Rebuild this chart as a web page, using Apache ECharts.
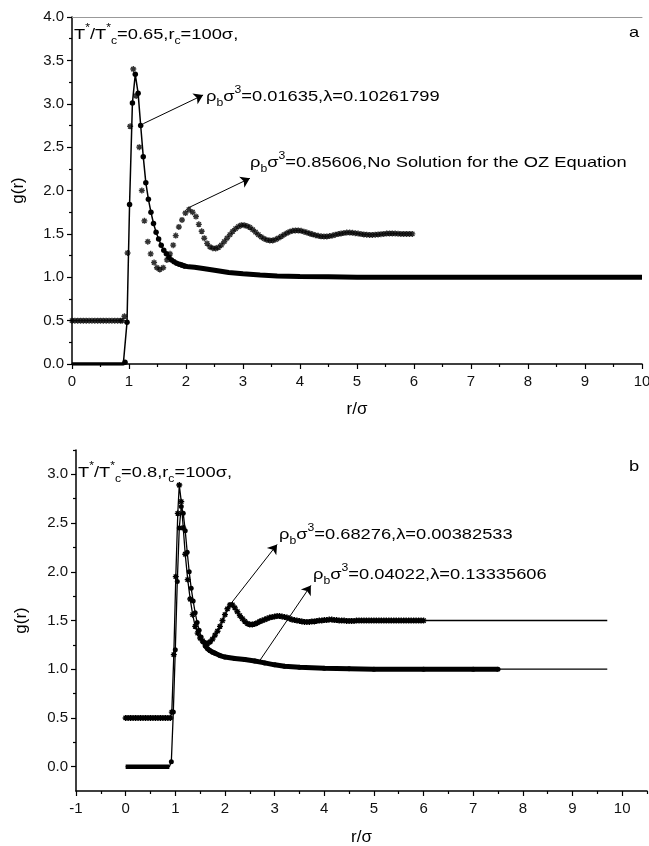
<!DOCTYPE html>
<html>
<head>
<meta charset="utf-8">
<script src="https://cdn.jsdelivr.net/npm/echarts@6/dist/echarts.min.js"></script>
<style>html,body{margin:0;padding:0;background:#fff;}#c{width:649px;height:846px;}</style>
</head>
<body>
<div id="c"></div>
<script>
// ---------- tick values ----------
const topXTicks = [0,1,2,3,4,5,6,7,8,9,10];
const topYTicks = [0,0.5,1,1.5,2,2.5,3,3.5,4];
const botXTicks = [-1,0,1,2,3,4,5,6,7,8,9,10];
const botXMinor = [-0.5,0.5,1.5,2.5,3.5,4.5,5.5,6.5,7.5,8.5,9.5,10.5];
const botYTicks = [0,0.5,1,1.5,2,2.5,3];
const botYMinor = [0.25,0.75,1.25,1.75,2.25,2.75,3.25];

// ---------- panel a: rho=0.01635 (circles + line) ----------
const topA = [[0,0],[0.1,0],[0.2,0],[0.3,0],[0.4,0],[0.5,0],[0.6,0],[0.7,0],[0.8,0],[0.9,0],
[0.93,0.02],[0.965,0.48],[1.01,1.84],[1.06,3.01],[1.11,3.34],[1.16,3.12],[1.205,2.75],[1.25,2.39],
[1.295,2.09],[1.34,1.90],[1.385,1.75],[1.43,1.62],[1.475,1.52],[1.52,1.44],[1.565,1.37],[1.61,1.31],
[1.655,1.27],[1.70,1.23],[1.745,1.20],[1.79,1.18],[1.835,1.16],[1.88,1.15],[1.925,1.14],[1.97,1.13],
[2.05,1.12],[2.15,1.115],[2.3,1.10],[2.5,1.08],[2.75,1.055],[3.0,1.04],[3.3,1.025],[3.6,1.015],
[4,1.01],[4.5,1.005],[5,1],[6,1],[7,1],[8,1],[9,1],[10,1]];

// ---------- panel a: rho=0.85606 (asterisks) ----------
const topB = [[0,.5],[.05,.5],[.1,.5],[.15,.5],[.2,.5],[.25,.5],[.3,.5],[.35,.5],[.4,.5],[.45,.5],[.5,.5],
[.55,.5],[.6,.5],[.65,.5],[.7,.5],[.75,.5],[.8,.5],[.85,.5],[.88,.5],
[.92,.55],[.975,1.28],[1.02,2.74],[1.075,3.40],[1.125,3.09],[1.18,2.50],[1.225,2.0],[1.27,1.65],
[1.33,1.41],[1.38,1.27],[1.44,1.17],[1.49,1.11],[1.54,1.09],[1.60,1.11],[1.665,1.20],[1.72,1.27],
[1.775,1.37],[1.82,1.48],[1.875,1.58],[1.93,1.66],[1.99,1.74],[2.05,1.78],[2.115,1.75],[2.175,1.70],
[2.225,1.61],[2.275,1.53],[2.32,1.45],[2.37,1.39],[2.42,1.35],[2.47,1.335],[2.52,1.33],[2.57,1.345],
[2.62,1.37],[2.67,1.41],[2.72,1.45],[2.77,1.49],[2.82,1.53],[2.87,1.56],[2.92,1.585],[2.97,1.60],
[3.02,1.60],[3.07,1.59],[3.12,1.575],[3.17,1.55],[3.22,1.52],[3.27,1.49],[3.32,1.465],[3.37,1.445],
[3.42,1.43],[3.47,1.425],[3.52,1.425],[3.57,1.435],[3.62,1.45],[3.67,1.47],[3.72,1.49],[3.77,1.51],
[3.82,1.525],[3.87,1.535],[3.92,1.54],[3.97,1.54],[4.02,1.535],[4.07,1.525],[4.12,1.515],[4.17,1.505],
[4.22,1.495],[4.27,1.485],[4.32,1.478],[4.37,1.472],[4.42,1.47],[4.47,1.47],[4.52,1.475],[4.57,1.48],
[4.62,1.49],[4.67,1.498],[4.72,1.505],[4.77,1.51],[4.82,1.515],[4.87,1.515],[4.92,1.512],[4.97,1.508],
[5.02,1.503],[5.07,1.498],[5.12,1.494],[5.17,1.49],[5.22,1.488],[5.27,1.488],[5.32,1.49],[5.37,1.493],
[5.42,1.497],[5.47,1.5],[5.52,1.503],[5.57,1.505],[5.62,1.505],[5.67,1.504],[5.72,1.502],[5.77,1.5],
[5.82,1.5],[5.87,1.5],[5.92,1.5],[5.97,1.5]];

// ---------- panel b: rho=0.68276 (asterisks + line) ----------
const botC = [[0,.5],[.05,.5],[.1,.5],[.15,.5],[.2,.5],[.25,.5],[.3,.5],[.35,.5],[.4,.5],[.45,.5],[.5,.5],
[.55,.5],[.6,.5],[.65,.5],[.7,.5],[.75,.5],[.8,.5],[.85,.5],[.9,.5],
[.93,.56],[.97,1.15],[1.01,1.95],[1.05,2.6],[1.08,2.89],[1.12,2.72],[1.16,2.45],[1.2,2.18],[1.25,1.92],
[1.3,1.72],[1.35,1.56],[1.4,1.44],[1.45,1.37],[1.5,1.32],[1.55,1.29],[1.6,1.27],[1.65,1.265],[1.7,1.28],
[1.75,1.31],[1.8,1.35],[1.85,1.39],[1.9,1.44],[1.95,1.5],[2,1.56],[2.05,1.62],[2.1,1.66],[2.15,1.66],
[2.2,1.63],[2.25,1.59],[2.3,1.55],[2.35,1.52],[2.4,1.49],[2.45,1.47],[2.5,1.46],[2.55,1.46],[2.6,1.465],
[2.65,1.475],[2.7,1.49],[2.75,1.5],[2.8,1.51],[2.85,1.52],[2.9,1.53],[2.95,1.535],[3,1.54],[3.05,1.545],
[3.1,1.545],[3.15,1.54],[3.2,1.535],[3.25,1.53],[3.3,1.52],[3.35,1.51],[3.4,1.505],[3.45,1.5],[3.5,1.495],
[3.55,1.49],[3.6,1.485],[3.65,1.485],[3.7,1.485],[3.75,1.49],[3.8,1.49],[3.85,1.495],[3.9,1.5],[3.95,1.5],
[4,1.505],[4.05,1.505],[4.1,1.51],[4.15,1.51],[4.2,1.505],[4.25,1.505],[4.3,1.5],[4.35,1.5],[4.4,1.5],
[4.45,1.495],[4.5,1.495],[4.55,1.495],[4.6,1.495],[4.65,1.5],[4.7,1.5],[4.75,1.5],[4.8,1.5],[4.85,1.5],
[4.9,1.5],[4.95,1.5],[5,1.5],[5.05,1.5],[5.1,1.5],[5.15,1.5],[5.2,1.5],[5.25,1.5],[5.3,1.5],[5.35,1.5],
[5.4,1.5],[5.45,1.5],[5.5,1.5],[5.55,1.5],[5.6,1.5],[5.65,1.5],[5.7,1.5],[5.75,1.5],[5.8,1.5],[5.85,1.5],
[5.9,1.5],[5.95,1.5],[6,1.5],[7,1.5],[8,1.5],[9,1.5],[9.7,1.5]];

// ---------- panel b: rho=0.04022 (circles + line) ----------
const botD = [[0,0],[0.1,0],[0.2,0],[0.3,0],[0.4,0],[0.5,0],[0.6,0],[0.7,0],[0.8,0],[0.88,0],
[0.92,0.05],[0.96,0.56],[1.0,1.2],[1.04,1.9],[1.08,2.45],[1.12,2.67],[1.16,2.6],[1.2,2.42],[1.24,2.2],
[1.28,2.0],[1.32,1.83],[1.36,1.7],[1.4,1.58],[1.44,1.48],[1.48,1.4],[1.52,1.33],[1.56,1.28],[1.6,1.24],
[1.65,1.21],[1.7,1.19],[1.75,1.175],[1.8,1.165],[1.9,1.14],[2.0,1.125],[2.2,1.11],[2.4,1.10],[2.6,1.085],
[2.8,1.065],[3.0,1.045],[3.2,1.03],[3.5,1.02],[4,1.01],[4.5,1.005],[5,1],[6,1],[7,1],[7.5,1],[8,1],[9,1],[9.7,1]];

// ---------- annotation texts ----------
const labelTopState = '{m|T}{sup|*}{m|/T}{sup|*}{sub|c}{m|=0.65,r}{sub|c}{m|=100σ,}';
const labelTopA = '{m|ρ}{sub|b}{m|σ}{sup|3}{m|=0.01635,λ=0.10261799}';
const labelTopB = '{m|ρ}{sub|b}{m|σ}{sup|3}{m|=0.85606,No Solution for the OZ Equation}';
const labelBotState = '{m|T}{sup|*}{m|/T}{sup|*}{sub|c}{m|=0.8,r}{sub|c}{m|=100σ,}';
const labelBotC = '{m|ρ}{sub|b}{m|σ}{sup|3}{m|=0.68276,λ=0.00382533}';
const labelBotD = '{m|ρ}{sub|b}{m|σ}{sup|3}{m|=0.04022,λ=0.13335606}';

const F = '"Liberation Sans", Arial, Helvetica, sans-serif';
const AST = 'path://M0,-1L0,1M-1,0L1,0M-0.71,-0.71L0.71,0.71M-0.71,0.71L0.71,-0.71';
const SX = 1.22;

function rt(x, y, text, size, sx) {
  const s = Math.round(size * 0.66);
  return {
    type: 'text', x: x, y: y, scaleX: sx, silent: true, z: 100,
    style: {
      text: text, fill: '#000', font: size + 'px ' + F, align: 'left', verticalAlign: 'middle',
      rich: {
        m: {fontSize: size, fontFamily: F, lineHeight: size + 8, verticalAlign: 'middle', fill: '#000'},
        sub: {fontSize: s, fontFamily: F, lineHeight: s, verticalAlign: 'bottom', fill: '#000'},
        sup: {fontSize: s, fontFamily: F, lineHeight: s, verticalAlign: 'top', fill: '#000'}
      }
    }
  };
}

const axisLineStyle = {color: '#000', width: 1.5};
const tickStyle = {color: '#000', width: 1.2};
const lblStyle = {color: '#111', fontSize: 15, fontFamily: F};
const nameStyle = {color: '#000', fontSize: 17, fontFamily: F};

const arrowStyle = {
  silent: true, symbol: ['none', 'arrow'], symbolSize: 9, animation: false,
  label: {show: false}, lineStyle: {color: '#000', width: 1, type: 'solid'}, emphasis: {disabled: true}
};
const arrowTopA = [[{coord: [1.25, 2.77]}, {coord: [2.30, 3.10]}]];
const arrowTopB = [[{coord: [2.04, 1.80]}, {coord: [3.12, 2.14]}]];
const arrowBotC = [[{coord: [2.13, 1.68]}, {coord: [3.05, 2.28]}]];
const arrowBotD = [[{coord: [2.69, 1.08]}, {coord: [3.73, 1.86]}]];

const astStyle = {color: '#000', borderColor: '#000', borderWidth: 1.4};

const chart = echarts.init(document.getElementById('c'), null, {renderer: 'canvas'});
const option = {
  animation: false,
  backgroundColor: '#fff',
  grid: [
    {left: 72, top: 17, width: 570, height: 347, outerBoundsMode: 'none', containLabel: false},
    {left: 76, top: 450, width: 571, height: 341, outerBoundsMode: 'none', containLabel: false}
  ],
  xAxis: [
    {gridIndex: 0, type: 'value', min: 0, max: 10, interval: 1, position: 'bottom',
     axisLine: {onZero: false, lineStyle: axisLineStyle},
     axisTick: {show: true, length: 5, lineStyle: tickStyle},
     minorTick: {show: true, splitNumber: 2, length: 3, lineStyle: tickStyle},
     splitLine: {show: false}, minorSplitLine: {show: false},
     axisLabel: Object.assign({margin: 10, customValues: topXTicks}, lblStyle),
     name: 'r/σ', nameLocation: 'middle', nameGap: 37, nameTextStyle: nameStyle},
    {gridIndex: 0, type: 'value', min: 0, max: 10, position: 'top',
     axisLine: {onZero: false, lineStyle: {color: '#999', width: 1}},
     axisTick: {show: false}, axisLabel: {show: false}, splitLine: {show: false}},
    {gridIndex: 1, type: 'value', min: -1, max: 10.5, position: 'bottom',
     axisLine: {onZero: false, lineStyle: axisLineStyle},
     axisTick: {show: true, length: 5, lineStyle: tickStyle, customValues: botXTicks},
     splitLine: {show: false},
     axisLabel: Object.assign({margin: 10, customValues: botXTicks}, lblStyle),
     name: 'r/σ', nameLocation: 'middle', nameGap: 38, nameTextStyle: nameStyle},
    {gridIndex: 1, type: 'value', min: -1, max: 10.5, position: 'bottom',
     axisLine: {show: false, onZero: false},
     axisTick: {show: true, length: 3, lineStyle: tickStyle, customValues: botXMinor},
     axisLabel: {show: false}, splitLine: {show: false}}
  ],
  yAxis: [
    {gridIndex: 0, type: 'value', min: 0, max: 4, interval: 0.5, position: 'left',
     axisLine: {show: true, onZero: false, lineStyle: axisLineStyle},
     axisTick: {show: true, length: 5, lineStyle: tickStyle},
     minorTick: {show: true, splitNumber: 2, length: 3, lineStyle: tickStyle},
     splitLine: {show: false}, minorSplitLine: {show: false},
     axisLabel: Object.assign({margin: 8, customValues: topYTicks, formatter: v => v.toFixed(1)}, lblStyle),
     name: 'g(r)', nameLocation: 'middle', nameGap: 45, nameTextStyle: nameStyle},
    {gridIndex: 1, type: 'value', min: -0.25, max: 3.25, position: 'left',
     axisLine: {show: true, onZero: false, lineStyle: axisLineStyle},
     axisTick: {show: true, length: 5, lineStyle: tickStyle, customValues: botYTicks},
     splitLine: {show: false},
     axisLabel: Object.assign({margin: 8, customValues: botYTicks, formatter: v => v.toFixed(1)}, lblStyle),
     name: 'g(r)', nameLocation: 'middle', nameGap: 46, nameTextStyle: nameStyle},
    {gridIndex: 1, type: 'value', min: -0.25, max: 3.25, position: 'left',
     axisLine: {show: false, onZero: false},
     axisTick: {show: true, length: 3, lineStyle: tickStyle, customValues: botYMinor},
     axisLabel: {show: false}, splitLine: {show: false}}
  ],
  series: [
    // panel a, rho=0.01635: dense parts drawn as thick band
    {type: 'line', xAxisIndex: 0, yAxisIndex: 0, data: topA.filter(p => p[0] <= 0.93), symbol: 'none',
     lineStyle: {color: '#000', width: 3.5}, z: 2, silent: true},
    {type: 'line', xAxisIndex: 0, yAxisIndex: 0, data: topA.filter(p => p[0] >= 1.88), symbol: 'none',
     lineStyle: {color: '#000', width: 5}, z: 2, silent: true},
    {type: 'line', xAxisIndex: 0, yAxisIndex: 0, data: topA, symbol: 'circle',
     symbolSize: v => (v[0] >= 0.92 && v[0] <= 2.0) ? 5.5 : 0,
     itemStyle: {color: '#000'}, lineStyle: {color: '#000', width: 1.5}, z: 3, silent: true,
     markLine: Object.assign({data: arrowTopA}, arrowStyle)},
    // panel a, rho=0.85606
    {type: 'scatter', xAxisIndex: 0, yAxisIndex: 0, data: topB, symbol: AST, symbolSize: 6,
     itemStyle: astStyle, z: 4, silent: true,
     markLine: Object.assign({data: arrowTopB}, arrowStyle)},
    // panel b, rho=0.04022
    {type: 'line', xAxisIndex: 2, yAxisIndex: 1, data: botD.filter(p => p[0] <= 0.9), symbol: 'none',
     lineStyle: {color: '#000', width: 4.5}, z: 2, silent: true},
    {type: 'line', xAxisIndex: 2, yAxisIndex: 1, data: botD.filter(p => p[0] >= 1.6 && p[0] <= 7.5), symbol: 'none',
     lineStyle: {color: '#000', width: 5}, z: 2, silent: true},
    {type: 'line', xAxisIndex: 2, yAxisIndex: 1, data: botD, symbol: 'circle',
     symbolSize: v => (v[0] >= 0.9 && v[0] <= 7.5) ? 5 : 0,
     itemStyle: {color: '#000'}, lineStyle: {color: '#000', width: 1.3}, z: 3, silent: true,
     markLine: Object.assign({data: arrowBotD}, arrowStyle)},
    // panel b, rho=0.68276
    {type: 'line', xAxisIndex: 2, yAxisIndex: 1, data: botC, symbol: AST,
     symbolSize: v => v[0] <= 6.01 ? 6 : 0,
     itemStyle: astStyle, lineStyle: {color: '#000', width: 1.3}, z: 4, silent: true,
     markLine: Object.assign({data: arrowBotC}, arrowStyle)}
  ],
  graphic: [
    rt(74, 35, labelTopState, 15, SX),
    rt(206, 97, labelTopA, 15, SX),
    rt(250, 163, labelTopB, 15, SX),
    rt(629, 33, '{m|a}', 15, SX),
    rt(78, 473, labelBotState, 15, SX),
    rt(279, 535, labelBotC, 15, SX),
    rt(313, 575, labelBotD, 15, SX),
    rt(629, 467, '{m|b}', 15, SX)
  ]
};
chart.setOption(option);
</script>
</body>
</html>
